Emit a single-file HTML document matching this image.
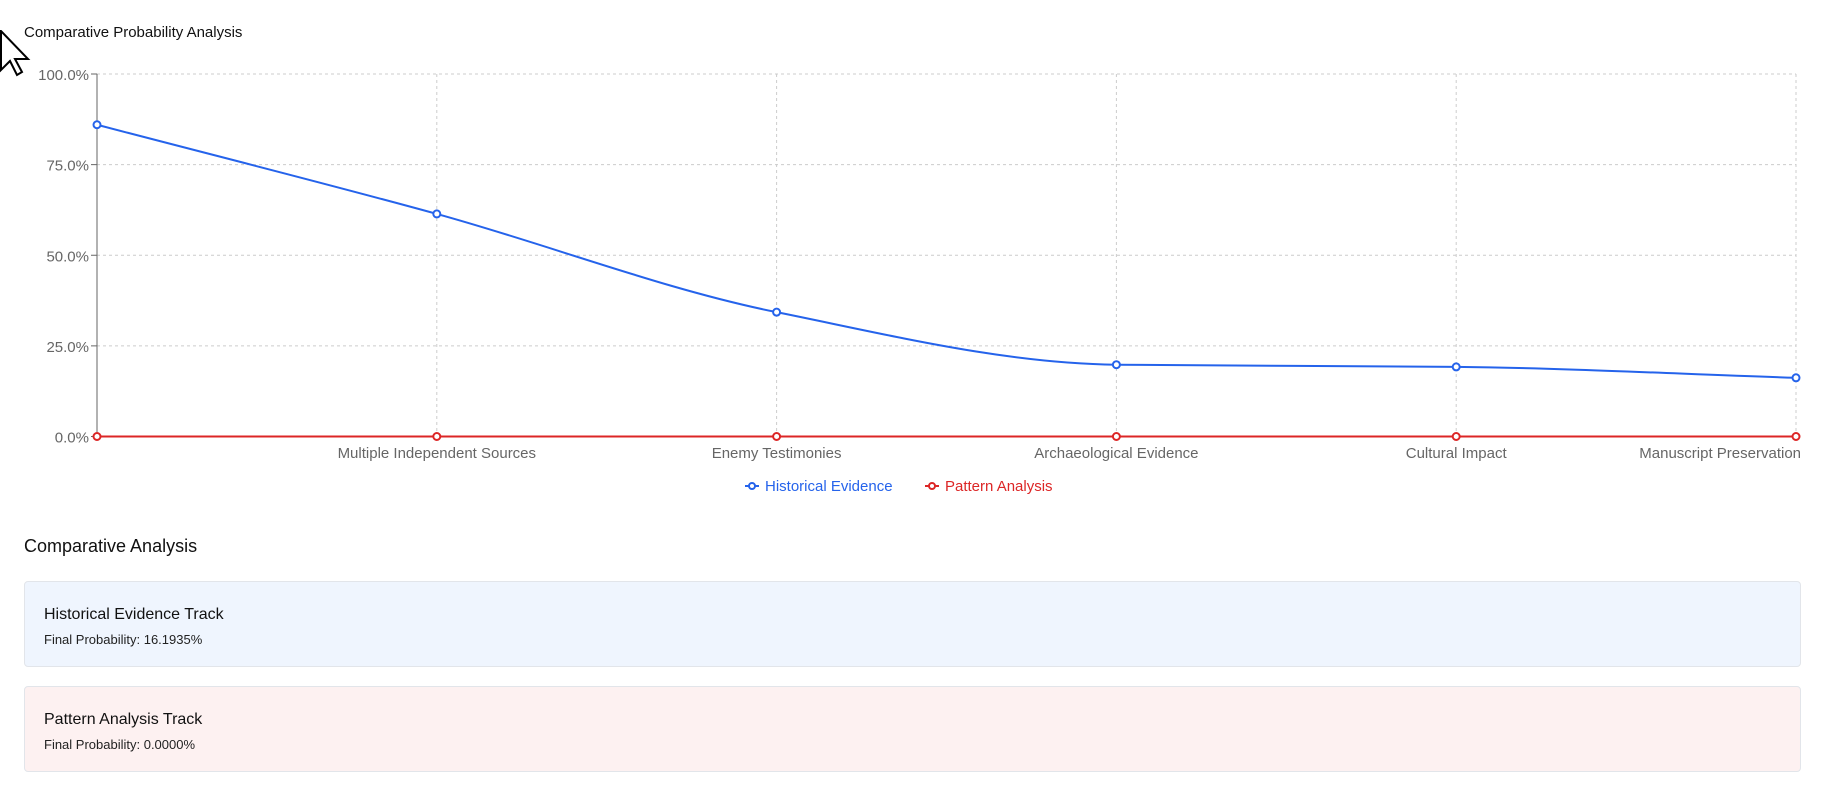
<!DOCTYPE html>
<html><head><meta charset="utf-8">
<style>
body{margin:0;width:1833px;height:806px;background:#fff;font-family:"Liberation Sans",sans-serif;position:relative;overflow:hidden}
.title{position:absolute;left:24px;top:24px;font-size:15px;color:#111}
.h2{position:absolute;left:24px;top:536px;font-size:18px;color:#111}
.card{position:absolute;left:24px;width:1777px;height:86px;border:1px solid #e2e5ea;border-radius:4px;box-sizing:border-box}
.card .t{position:absolute;left:19px;top:24px;font-size:16px;color:#111}
.card .s{position:absolute;left:19px;top:50px;font-size:13px;color:#222}
</style></head><body>
<div class="title">Comparative Probability Analysis</div>
<svg id="chart" width="1833" height="520" style="position:absolute;left:0;top:0"></svg>
<svg width="40" height="50" style="position:absolute;left:0;top:30px"><polygon points="1,1 1,40 10,31 17,45 22,42 15,29 28,29" fill="#fff" stroke="#000" stroke-width="2"/></svg>
<div class="h2">Comparative Analysis</div>
<div class="card" style="top:581px;background:#eff5fe"><div class="t">Historical Evidence Track</div><div class="s">Final Probability: 16.1935%</div></div>
<div class="card" style="top:686px;background:#fdf1f1"><div class="t">Pattern Analysis Track</div><div class="s">Final Probability: 0.0000%</div></div>
<script>
const categories=["Initial Claim","Multiple Independent Sources","Enemy Testimonies","Archaeological Evidence","Cultural Impact","Manuscript Preservation"];
const historical=[86.0,61.4,34.3,19.8,19.2,16.19];
const pattern=[0,0,0,0,0,0];
const yTicks=[0,25,50,75,100];
const NS="http://www.w3.org/2000/svg";
const svg=document.getElementById('chart');
const L=97,R=1796,T=74,B=436.5;
const x=i=>L+i*(R-L)/(categories.length-1);
const y=v=>B-(v/100)*(B-T);
function el(t,a,p){const e=document.createElementNS(NS,t);for(const k in a)e.setAttribute(k,a[k]);(p||svg).appendChild(e);return e;}
yTicks.forEach(v=>{
 if(v>0){const g=el('line',{x1:L,x2:R,y1:y(v),y2:y(v),stroke:'#ccc','stroke-dasharray':'3 3'});
 
 }
 el('line',{x1:L-6,x2:L,y1:y(v),y2:y(v),stroke:'#666'});
 const t=el('text',{x:L-8,y:y(v)+6,'text-anchor':'end','font-size':15,fill:'#666'});t.textContent=v.toFixed(1)+'%';
 
 
});
categories.forEach((c,i)=>{
 if(i>0){const g=el('line',{x1:x(i),x2:x(i),y1:T,y2:B,stroke:'#ccc','stroke-dasharray':'3 3'});
 
 }
 if(i>0){const last=i===categories.length-1;
 const t=el('text',{x:last?R+5:x(i),y:458,'text-anchor':last?'end':'middle','font-size':15,fill:'#666'});t.textContent=c;
 
 }
});
el('line',{x1:L,x2:L,y1:T,y2:B,stroke:'#666'});
function monotone(pts){
 const n=pts.length,d=[],m=[];
 for(let i=0;i<n-1;i++)d.push((pts[i+1][1]-pts[i][1])/(pts[i+1][0]-pts[i][0]));
 for(let i=0;i<n;i++){
  if(i===0)m.push(d[0]);else if(i===n-1)m.push(d[n-2]);
  else m.push(d[i-1]*d[i]<=0?0:2/(1/d[i-1]+1/d[i]));
 }
 let s=`M${pts[0][0]},${pts[0][1]}`;
 for(let i=0;i<n-1;i++){const h=(pts[i+1][0]-pts[i][0])/3;
  s+=`C${pts[i][0]+h},${pts[i][1]+m[i]*h} ${pts[i+1][0]-h},${pts[i+1][1]-m[i+1]*h} ${pts[i+1][0]},${pts[i+1][1]}`;}
 return s;
}
function series(vals,color,name){
 const p=el('path',{d:monotone(vals.map((v,i)=>[x(i),y(v)])),fill:'none',stroke:color,'stroke-width':2});
 
 
 vals.forEach((v,i)=>{const c=el('circle',{cx:x(i),cy:y(v),r:3.5,fill:'#fff',stroke:color,'stroke-width':2});
 
 });
}
series(historical,'#2563eb','historical-evidence');
series(pattern,'#dc2626','pattern-analysis');
[['Historical Evidence','#2563eb',745],['Pattern Analysis','#dc2626',925]].forEach(([n,c,lx])=>{
 const g=el('g',{});
 
 
 el('line',{x1:lx,x2:lx+14,y1:486,y2:486,stroke:c,'stroke-width':2},g);
 el('circle',{cx:lx+7,cy:486,r:3,fill:'#fff',stroke:c,'stroke-width':2},g);
 const t=el('text',{x:lx+20,y:491,'font-size':15,fill:c},g);t.textContent=n;
});
</script>
</body></html>
